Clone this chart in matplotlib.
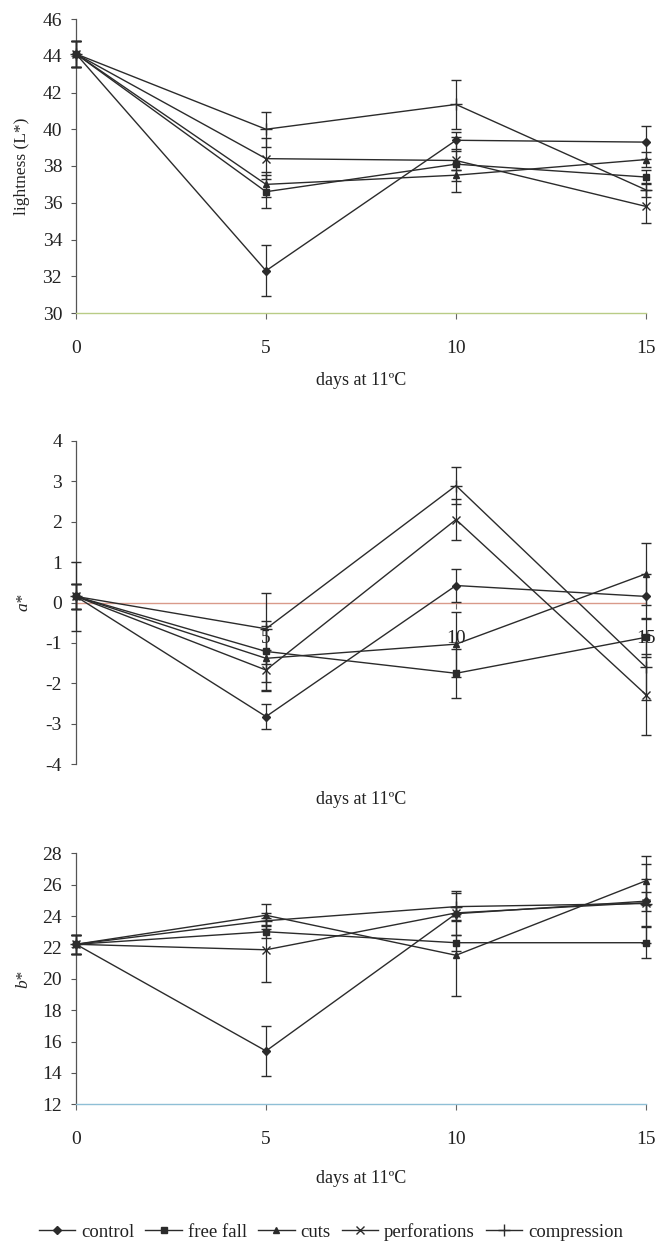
import matplotlib
matplotlib.use('Agg')
import matplotlib.pyplot as plt
from matplotlib.lines import Line2D

# ---------------- data ----------------
days = [0, 5, 10, 15]
treatments = ['control', 'free fall', 'cuts', 'perforations', 'compression']

# lightness L*
L_control = [44.1, 32.3, 39.4, 39.3]
L_freefall = [44.1, 36.6, 38.1, 37.4]
L_cuts = [44.1, 37.0, 37.5, 38.35]
L_perforations = [44.1, 38.4, 38.3, 35.8]
L_compression = [44.1, 40.0, 41.35, 36.7]
L_control_err = [0.7, 1.4, 0.45, 0.9]
L_freefall_err = [0.7, 0.9, 1.5, 0.4]
L_cuts_err = [0.7, 0.7, 0.3, 0.4]
L_perforations_err = [0.7, 1.1, 0.5, 0.9]
L_compression_err = [0.7, 0.95, 1.35, 0.4]

# a*
a_control = [0.15, -2.82, 0.42, 0.15]
a_freefall = [0.15, -1.21, -1.75, -0.86]
a_cuts = [0.15, -1.38, -1.03, 0.71]
a_perforations = [0.15, -1.67, 2.05, -2.28]
a_compression = [0.15, -0.65, 2.89, -1.6]
a_control_err = [0.85, 0.3, 0.4, 0.55]
a_freefall_err = [0.3, 0.75, 0.6, 0.48]
a_cuts_err = [0.3, 0.8, 0.8, 0.76]
a_perforations_err = [0.3, 0.5, 0.5, 1.0]
a_compression_err = [0.3, 0.88, 0.45, 0.8]

# b*
b_control = [22.2, 15.4, 24.15, 24.95]
b_freefall = [22.2, 23.0, 22.3, 22.3]
b_cuts = [22.2, 24.05, 21.5, 26.25]
b_perforations = [22.2, 21.85, 24.2, 24.85]
b_compression = [22.2, 23.7, 24.6, 24.8]
b_control_err = [0.6, 1.6, 0.4, 0.6]
b_freefall_err = [0.6, 0.4, 0.5, 1.0]
b_cuts_err = [0.6, 0.7, 2.6, 1.55]
b_perforations_err = [0.6, 2.05, 1.4, 1.5]
b_compression_err = [0.6, 0.5, 0.9, 2.5]

x_ticks = [0, 5, 10, 15]
L_ticks = list(range(30, 47, 2))
a_ticks = list(range(-4, 5))
b_ticks = list(range(12, 29, 2))
x_label = 'days at 11ºC'

# ---------------- style ----------------
plt.rcParams['font.family'] = ['Liberation Serif', 'DejaVu Serif']
plt.rcParams['axes.unicode_minus'] = False

W, H = 659, 1248
fig = plt.figure(figsize=(W / 100, H / 100), dpi=100)
fig.patch.set_facecolor('white')

INK = '#2b2b2b'
TXT = '#222222'
markers = {'control': ('D', 4.0), 'free fall': ('s', 4.5), 'cuts': ('^', 5.0),
           'perforations': ('x', 6.0), 'compression': ('+', 8.0)}


def px_axes(x0, x1, ytop, ybot):
    return fig.add_axes([x0 / W, 1 - ybot / H, (x1 - x0) / W, (ybot - ytop) / H])


def draw(ax, vals, errs):
    for name, v, e in zip(treatments, vals, errs):
        m, ms = markers[name]
        ax.errorbar(days, v, yerr=e, color=INK, lw=1.0, elinewidth=0.9,
                    capsize=3.6, capthick=0.9, marker=m, ms=ms, mew=1.0,
                    clip_on=False, zorder=3)


def style(ax, ticks, ylim, axis_color, xlabel_y):
    ax.set_xlim(0, 15)
    ax.set_ylim(*ylim)
    ax.set_yticks(ticks)
    ax.set_xticks(x_ticks)
    for s in ('top', 'right'):
        ax.spines[s].set_visible(False)
    ax.spines['left'].set_color('#555555')
    ax.spines['left'].set_linewidth(0.9)
    ax.spines['bottom'].set_color(axis_color)
    ax.spines['bottom'].set_linewidth(1.0)
    ax.tick_params(axis='y', direction='out', length=3.5, width=0.8,
                   color='#555555', pad=6.5, labelsize=14, labelcolor=TXT)
    ax.tick_params(axis='x', direction='out', length=4, width=0.8,
                   color='#666666', pad=15.5, labelsize=14, labelcolor=TXT)
    ax.set_xlabel(x_label, fontsize=13, color=TXT)
    ax.xaxis.set_label_coords(0.5, xlabel_y)
    ax.xaxis.label.set_va('center')
    ax.set_facecolor('none')


def ylab(ax, text, italic, x):
    ax.set_ylabel(text, fontsize=12.5, style='italic' if italic else 'normal', color=TXT)
    ax.yaxis.set_label_coords(x, 0.5)
    ax.yaxis.label.set_va('center')


# top: lightness
ax1 = px_axes(76, 646, 19, 313)
draw(ax1, [L_control, L_freefall, L_cuts, L_perforations, L_compression],
     [L_control_err, L_freefall_err, L_cuts_err, L_perforations_err, L_compression_err])
style(ax1, L_ticks, (30, 46), '#b9cc86', -0.228)
ylab(ax1, 'lightness (L*)', False, -0.095)

# middle: a*
ax2 = px_axes(76, 646, 440.7, 764.3)
draw(ax2, [a_control, a_freefall, a_cuts, a_perforations, a_compression],
     [a_control_err, a_freefall_err, a_cuts_err, a_perforations_err, a_compression_err])
style(ax2, a_ticks, (-4, 4), '#d99a8a', -0.110)
ax2.spines['bottom'].set_position(('data', 0))
ax2.set_xticklabels(['', '5', '10', '15'])
ylab(ax2, 'a*', True, -0.093)

# bottom: b*
ax3 = px_axes(76, 646, 853.3, 1104.3)
draw(ax3, [b_control, b_freefall, b_cuts, b_perforations, b_compression],
     [b_control_err, b_freefall_err, b_cuts_err, b_perforations_err, b_compression_err])
style(ax3, b_ticks, (12, 28), '#8fbfd6', -0.294)
ylab(ax3, 'b*', True, -0.093)

# legend
handles = [Line2D([], [], color=INK, lw=1.0, marker=markers[n][0], ms=markers[n][1], mew=1.0)
           for n in treatments]
fig.legend(handles, treatments, loc='center', bbox_to_anchor=(0.502, 1 - 1232 / H),
           ncol=5, frameon=False, fontsize=13.5, handlelength=1.95,
           handletextpad=0.3, columnspacing=0.6, labelcolor=TXT)

fig.savefig('out.png', dpi=100, facecolor='white')
